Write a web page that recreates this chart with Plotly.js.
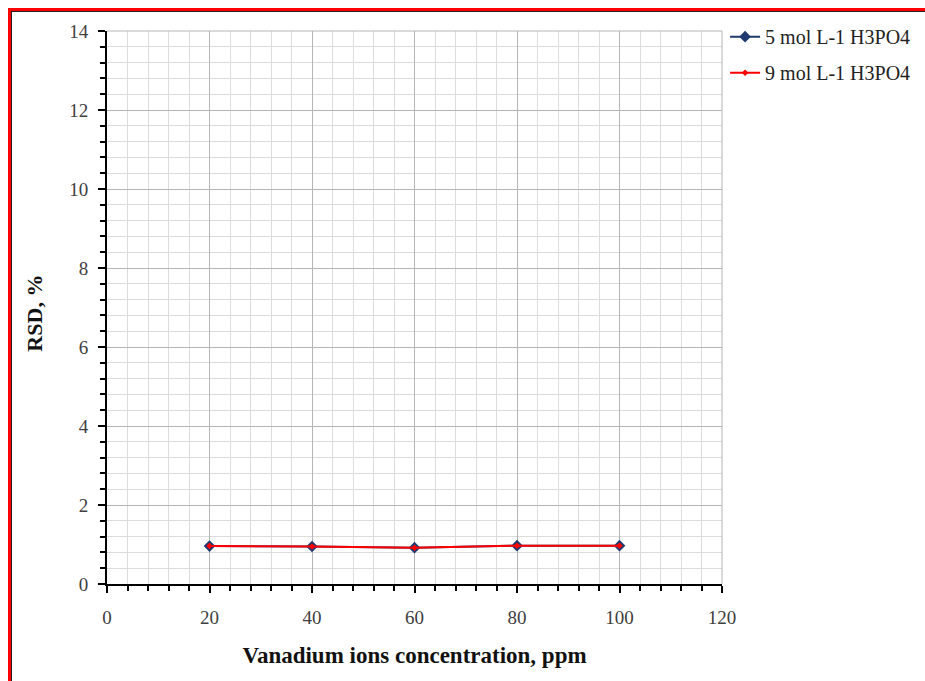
<!DOCTYPE html>
<html><head><meta charset="utf-8">
<script src="https://cdn.plot.ly/plotly-3.0.1.min.js"></script>
<style>
html,body{margin:0;padding:0;background:#fff;}
#wrap{position:relative;width:925px;height:681px;overflow:hidden;}
#chart{position:absolute;left:0;top:0;width:925px;height:681px;}
#fr{position:absolute;left:8px;top:8px;width:930px;height:700px;border-top:3px solid #ff0000;border-left:3px solid #ff0000;pointer-events:none;}
#fi{position:absolute;left:11px;top:11px;width:930px;height:700px;border-top:1.5px solid #222;border-left:1.5px solid #222;pointer-events:none;}
</style></head>
<body><div id="wrap"><div id="chart"></div><div id="fr"></div><div id="fi"></div></div>
<script>
const concentration = [20, 40, 60, 80, 100];
const rsd5 = [0.96, 0.95, 0.92, 0.97, 0.97];
const rsd9 = [0.96, 0.95, 0.92, 0.97, 0.97];
const seriesNames = ["5 mol L-1 H3PO4", "9 mol L-1 H3PO4"];
const xTitle = "Vanadium ions concentration, ppm";
const yTitle = "RSD, %";

const font = "Liberation Serif, DejaVu Serif, serif";
const traces = [
  {x: concentration, y: rsd5, name: seriesNames[0], legendgroup: "a", type: "scatter", mode: "lines+markers",
   line: {color: "#1F3A6E", width: 2}, marker: {symbol: "diamond", size: 9, color: "#1F3A6E"}},
  {x: concentration, y: rsd9, name: seriesNames[1], legendgroup: "b", type: "scatter", mode: "lines+markers",
   line: {color: "#FF0000", width: 2}, marker: {symbol: "diamond", size: 5, color: "#FF0000"}}
];
const layout = {
  width: 925, height: 681,
  margin: {l: 107, r: 203, t: 31, b: 97, autoexpand: false},
  paper_bgcolor: "#fff", plot_bgcolor: "#fff",
  font: {family: font, size: 18, color: "#333"},
  showlegend: true,
  legend: {x: 1.005, y: 1.025, xanchor: "left", yanchor: "top", font: {family: font, size: 20, color: "#222"},
           tracegroupgap: 7, itemwidth: 30},
  xaxis: {range: [0, 120], dtick: 20, tick0: 0, showline: true, linecolor: "#000", linewidth: 2,
          ticks: "outside", ticklen: 7, tickwidth: 2, tickcolor: "#000",
          showgrid: true, gridcolor: "#b5b5b5", gridwidth: 1, zeroline: false,
          minor: {dtick: 4, showgrid: true, gridcolor: "#dcdcdc", gridwidth: 1, ticks: "outside", ticklen: 5, tickwidth: 2, tickcolor: "#000"},
          tickfont: {family: font, size: 19, color: "#404040"}, ticklabelstandoff: 8,
          title: {text: "<b>" + xTitle + "</b>", font: {family: font, size: 23, color: "#111"}, standoff: 20}},
  yaxis: {range: [0, 14], dtick: 2, tick0: 0, showline: true, linecolor: "#000", linewidth: 2,
          ticks: "outside", ticklen: 7, tickwidth: 2, tickcolor: "#000",
          showgrid: true, gridcolor: "#b5b5b5", gridwidth: 1, zeroline: false,
          minor: {dtick: 0.4, showgrid: true, gridcolor: "#dcdcdc", gridwidth: 1, ticks: "outside", ticklen: 5, tickwidth: 2, tickcolor: "#000"},
          tickfont: {family: font, size: 19, color: "#404040"}, ticklabelstandoff: 6},
  annotations: [
    {text: "<b>" + yTitle + "</b>", xref: "paper", yref: "paper", x: -0.117, y: 0.489, xanchor: "center", yanchor: "middle",
     textangle: -90, showarrow: false, font: {family: font, size: 22, color: "#111"}}
  ],
  shapes: [
    {type: "line", xref: "paper", yref: "paper", x0: 0, x1: 1, y0: 1, y1: 1, line: {color: "#b5b5b5", width: 1}},
    {type: "line", xref: "paper", yref: "paper", x0: 1, x1: 1, y0: 0, y1: 1, line: {color: "#b5b5b5", width: 1}}
  ]
};
Plotly.newPlot("chart", traces, layout, {displayModeBar: false, staticPlot: true});
</script></body></html>
